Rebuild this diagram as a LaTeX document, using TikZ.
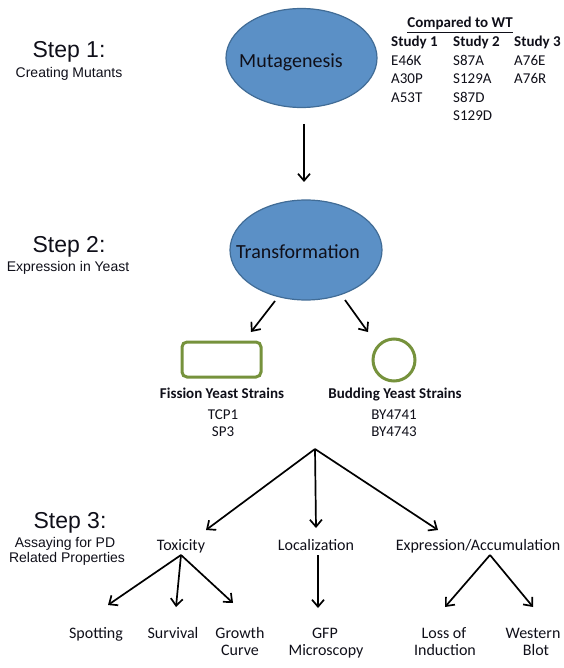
\documentclass[tikz,border=0pt]{standalone}
\usepackage{fontspec}
\setmainfont{Carlito}
\newfontfamily\arialf{Liberation Sans}
\usetikzlibrary{shapes.geometric,arrows.meta}
\definecolor{ellfill}{RGB}{91,144,198}
\definecolor{elldraw}{RGB}{65,108,150}
\definecolor{grn}{RGB}{118,146,60}
\definecolor{txt}{RGB}{15,15,25}
\tikzset{
  lbl/.style={inner sep=0pt, anchor=base, text=txt},
  lblw/.style={inner sep=0pt, anchor=base west, text=txt},
  stepttl/.style={lbl, font=\arialf\fontsize{23}{26}\selectfont},
  stepsub/.style={lbl, font=\arialf\fontsize{14}{16}\selectfont},
  elltxt/.style={lbl, font=\fontsize{20}{24}\selectfont},
  tbl/.style={lblw, font=\fontsize{15}{18}\selectfont},
  tblb/.style={lblw, font=\bfseries\fontsize{15}{18}\selectfont},
  strn/.style={lbl, font=\fontsize{15}{18}\selectfont},
  strnb/.style={lbl, font=\bfseries\fontsize{15}{18}\selectfont},
  assay/.style={lbl, font=\fontsize{16}{19}\selectfont},
  blob/.style={ellipse, draw=elldraw, fill=ellfill, line width=1.2pt, inner sep=0pt},
  greenbox/.style={draw=grn, line width=3pt, fill=white, inner sep=0pt},
  arr/.style={line width=1.7pt, draw=black, -{Straight Barb[length=7pt,width=12pt]}}
}
\begin{document}
\begin{tikzpicture}[x=1pt,y=-1pt]
\useasboundingbox (0,0) rectangle (563,668);

% Step labels
\node[stepttl] (s1) at (69,58) {Step 1:};
\node[stepsub] (s1b) at (69,78) {Creating Mutants};
\node[stepttl] (s2) at (69,252) {Step 2:};
\node[stepsub] (s2b) at (68,271) {Expression in Yeast};
\node[stepttl] (s3) at (70,528) {Step 3:};
\node[stepsub] (s3b) at (65,547) {Assaying for PD};
\node[stepsub] (s3c) at (67,562) {Related Properties};

% Ellipses
\node[blob, minimum width=151pt, minimum height=99pt] (mut) at (301.5,58) {};
\node[elltxt] (mutt) at (291,68) {Mutagenesis};
\node[blob, minimum width=152pt, minimum height=100pt] (trans) at (306,250) {};
\node[elltxt] (transt) at (298,258) {Transformation};

% Table
\node[lbl, font=\bfseries\fontsize{15}{18}\selectfont] (cmp) at (460,28) {\underline{Compared to WT}};
\node[tblb] (st1) at (391,47) {Study 1};
\node[tblb] (st2) at (453,47) {Study 2};
\node[tblb] (st3) at (514,47) {Study 3};
\node[tbl] (m11) at (391,66) {E46K};
\node[tbl] (m12) at (391,84) {A30P};
\node[tbl] (m13) at (391,103) {A53T};
\node[tbl] (m21) at (453,66) {S87A};
\node[tbl] (m22) at (453,84) {S129A};
\node[tbl] (m23) at (453,103) {S87D};
\node[tbl] (m24) at (453,121) {S129D};
\node[tbl] (m31) at (514,66) {A76E};
\node[tbl] (m32) at (514,84) {A76R};

% Arrow 1
\coordinate (a1s) at (304,124);
\coordinate (a1e) at (304,182);
\draw[arr] (a1s) -- (a1e);

% Transformation arrows
\coordinate (a2s) at (275,301);
\coordinate (a2e) at (251,332);
\coordinate (a3s) at (345,300);
\coordinate (a3e) at (368,332);
\draw[arr] (a2s) -- (a2e);
\draw[arr] (a3s) -- (a3e);

% Yeast shapes
\node[greenbox, rounded corners=5pt, minimum width=79pt, minimum height=35pt] (fis) at (221.5,359.5) {};
\node[greenbox, circle, minimum size=42pt] (bud) at (394,360) {};

\node[strnb] (fist) at (222,398) {Fission Yeast Strains};
\node[strn] (fis1) at (223,419) {TCP1};
\node[strn] (fis2) at (223,436) {SP3};
\node[strnb] (budt) at (395,398) {Budding Yeast Strains};
\node[strn] (bud1) at (394,419) {BY4741};
\node[strn] (bud2) at (394,436) {BY4743};

% Junction arrows
\coordinate (jn) at (315,449);
\coordinate (jtox) at (206,530);
\coordinate (jloc) at (316,528);
\coordinate (jexp) at (438,530);
\draw[arr] (jn) -- (jtox);
\draw[arr] (jn) -- (jloc);
\draw[arr] (jn) -- (jexp);

% Assay categories
\node[assay] (tox) at (181,550) {Toxicity};
\node[assay] (loc) at (316,550) {Localization};
\node[assay] (exa) at (478,550) {Expression/Accumulation};

\coordinate (ts) at (181,555);
\coordinate (ls) at (318,555);
\coordinate (es) at (490,555);
\coordinate (t1) at (108,605);
\coordinate (t2) at (176,607);
\coordinate (t3) at (233,603);
\coordinate (l1) at (318,608);
\coordinate (e1) at (445,607);
\coordinate (e2) at (533,607);
\draw[arr] (ts) -- (t1);
\draw[arr] (ts) -- (t2);
\draw[arr] (ts) -- (t3);
\draw[arr] (ls) -- (l1);
\draw[arr] (es) -- (e1);
\draw[arr] (es) -- (e2);

% Bottom labels
\node[assay] (spot) at (96,638) {Spotting};
\node[assay] (surv) at (173,638) {Survival};
\node[assay] (gro1) at (240,638) {Growth};
\node[assay] (gro2) at (240,655) {Curve};
\node[assay] (gfp1) at (325,638) {GFP};
\node[assay] (gfp2) at (326,655) {Microscopy};
\node[assay] (los1) at (444,638) {Loss of};
\node[assay] (los2) at (445,655) {Induction};
\node[assay] (wes1) at (533,638) {Western};
\node[assay] (wes2) at (536,655) {Blot};
\end{tikzpicture}
\end{document}
